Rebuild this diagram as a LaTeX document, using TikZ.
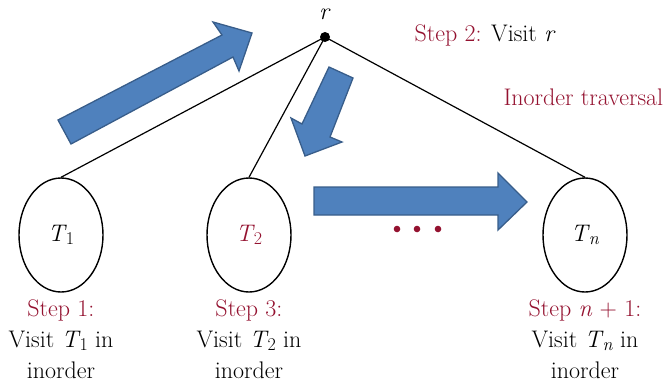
\documentclass[tikz,border=0pt]{standalone}
\usetikzlibrary{shapes.geometric}
\definecolor{stepred}{RGB}{148,18,48}
\definecolor{arrowfill}{RGB}{79,129,189}
\definecolor{arrowedge}{RGB}{56,93,138}
% italic T with a lowered subscript
\newcommand\subT[1]{\textit{T}\kern-0.04em\raisebox{-0.35ex}{\fontsize{18}{18}\selectfont #1}}
\begin{document}
\begin{tikzpicture}[x=1pt,y=-1pt,
  font=\fontsize{24}{31}\selectfont,
  subtree/.style={draw, line width=1.4pt, ellipse, minimum width=84pt, minimum height=114pt, inner sep=0pt},
  treeedge/.style={line width=1.2pt},
  blockarrow/.style={fill=arrowfill, draw=arrowedge, line width=1.3pt, line join=miter},
  caption/.style={align=center}]
\useasboundingbox (0,0) rectangle (668,389);

% root and its label
\node[circle, fill=black, inner sep=0pt, minimum size=10pt] (r) at (325,37) {};
\node (rlabel) at (325,14) {\textit{r}};
\node[anchor=west] (step2) at (411,35) {\textcolor{stepred}{Step 2:} Visit \textit{r}};
\node[anchor=west, text=stepred] (title) at (500,97) {Inorder traversal};

% subtrees
\node[subtree] (t1) at (61,235) {\subT{1}};
\node[subtree, text=stepred] (t2) at (249,235) {\subT{2}};
\node[subtree] (tn) at (585,235) {\subT{\textit{n}}};

\draw[treeedge] (r.center) -- (t1.north);
\draw[treeedge] (r.center) -- (t2.north);
\draw[treeedge] (r.center) -- (tn.north);

% captions
\node[caption] (c1) at (61,339) {\textcolor{stepred}{Step 1:}\\Visit \subT{1} in\\inorder};
\node[caption] (c2) at (249,339) {\textcolor{stepred}{Step 3:}\\Visit \subT{2} in\\inorder};
\node[caption] (cn) at (585,339) {\textcolor{stepred}{Step \textit{n} + 1:}\\Visit \subT{\textit{n}} in\\inorder};

% block arrows showing the order of the visits
\draw[blockarrow] (58,120) -- (222,35) -- (213,22) -- (252,33) -- (239,71) -- (233,57) -- (71,144) -- cycle;
\draw[blockarrow] (329,67) -- (353,78) -- (330,137) -- (342,142) -- (305,156) -- (291,118) -- (302,124) -- cycle;
\draw[blockarrow] (314,187) -- (498,187) -- (498,173) -- (527,202) -- (498,230) -- (498,215) -- (314,215) -- cycle;

% ellipsis dots
\fill[stepred] (397,229) circle (3.3);
\fill[stepred] (417,229) circle (3.3);
\fill[stepred] (438,229) circle (3.3);
\end{tikzpicture}
\end{document}
